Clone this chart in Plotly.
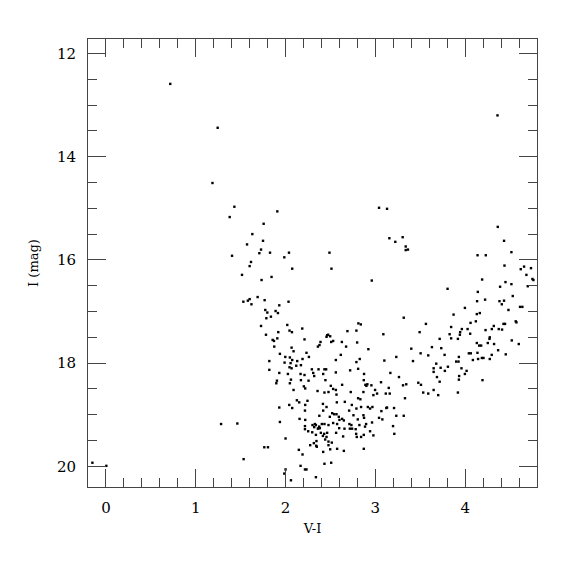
import plotly.graph_objects as go

# V-I colour and I magnitude
pts = [
(0.716,12.59),(1.244,13.44),(1.186,14.51),(4.36,13.2),
(1.43,14.97),(1.378,15.17),(1.404,15.92),
(1.908,15.06),(3.041,14.99),(3.13,15.01),(1.756,15.30),(1.63,15.50),(1.749,15.63),(1.571,15.70),
(1.727,15.80),(1.708,15.87),(1.827,15.86),(2.038,15.86),(1.986,15.95),(2.489,15.86),(1.615,16.04),
(1.60,16.12),(2.074,16.17),(2.511,16.17),(1.515,16.29),(1.844,16.33),(1.733,16.39),(2.96,16.40),
(1.689,16.72),(1.60,16.76),(1.767,16.78),(1.53,16.81),(1.58,16.79),(1.62,16.86),(2.033,16.81),
(1.93,16.88),(1.774,16.97),(1.797,17.02),(1.889,16.99),(1.915,17.03),(1.837,17.10),(1.786,17.13),
(1.727,17.28),(2.019,17.26),(2.186,17.33),(2.044,17.37),(2.071,17.40),(1.919,17.40),(1.782,17.45),
(2.689,17.38),(2.789,17.37),(2.811,17.23),(2.838,17.25),(3.089,17.44),(2.463,17.46),(2.497,17.48),
(2.474,17.45),(2.456,17.49),
(4.363,15.36),(3.156,15.58),(3.222,15.65),(3.304,15.56),(3.338,15.74),(3.338,15.81),(3.363,15.80),
(4.433,15.63),(4.515,15.85),(4.138,15.91),(4.23,15.91),(4.438,16.11),(4.656,16.13),(4.619,16.18),
(4.733,16.16),(4.682,16.29),(4.749,16.37),(4.76,16.39),(4.189,16.38),(4.449,16.43),(4.515,16.47),
(4.389,16.52),(4.697,16.51),(3.804,16.56),(4.141,16.62),(4.53,16.70),(4.222,16.77),(4.133,16.80),
(4.382,16.80),(4.433,16.79),(4.408,16.86),(4.611,16.91),(4.637,16.91),(3.997,16.93),(4.482,16.97),
(3.871,17.06),(4.13,17.05),(4.163,17.03),(3.316,17.12),(4.06,17.22),(4.119,17.19),(4.563,17.19),
(4.571,17.21),(3.563,17.24),(4.427,17.24),(4.444,17.24),(4.319,17.28),(3.844,17.30),(3.963,17.34),
(4.027,17.34),(4.227,17.36),(4.297,17.34),(4.374,17.34),(4.411,17.35),(3.493,17.40),(3.944,17.40),
(3.827,17.44),(3.941,17.45),(4.056,17.43),(4.274,17.50),
(1.282,19.18),(1.463,19.17),(-0.151,19.93),(0.004,19.99),
(1.856,17.55),(1.871,17.57),(1.908,17.52),(2.211,17.54),(2.389,17.59),(2.378,17.65),(2.36,17.68),
(2.508,17.59),(2.53,17.57),(2.627,17.59),(2.674,17.68),(2.797,17.60),(1.874,17.68),(2.067,17.70),
(2.922,17.73),(2.089,17.77),(1.937,17.82),(2.233,17.80),(2.615,17.84),(1.997,17.88),(2.048,17.89),
(2.074,17.94),(2.189,17.92),(2.26,17.88),(2.826,17.92),(2.56,17.94),(2.789,17.98),(1.819,17.96),
(3.1,17.95),(1.989,17.99),(2.13,17.96),(2.056,18.00),(2.171,18.04),(2.119,18.05),(2.044,18.08),
(2.067,18.10),(2.293,18.12),(2.367,18.12),(2.433,18.12),(2.452,18.12),(2.719,18.14),(2.808,18.11),
(1.819,18.13),(1.93,18.19),(2.026,18.21),(2.167,18.21),(2.211,18.23),(2.308,18.19),(2.319,18.25),
(2.419,18.21),(2.56,18.18),(2.874,18.21),(2.06,18.32),(2.171,18.33),(2.256,18.34),(2.444,18.33),
(2.871,18.33),(1.904,18.34),(1.897,18.39),(2.048,18.39),(2.889,18.42),(2.9,18.44),(2.911,18.41),
(2.956,18.43),(3.063,18.37),(2.204,18.45),(2.219,18.49),(2.504,18.44),(2.63,18.42),(2.089,18.52),
(2.356,18.54),(2.433,18.57),(2.478,18.56),(2.53,18.50),(2.56,18.52),(2.567,18.61),(2.726,18.56),
(2.867,18.56),(2.997,18.52),(3.019,18.59),(3.116,18.59),(2.978,18.62),(2.808,18.68),(2.833,18.70),
(2.126,18.72),(2.152,18.76),(2.244,18.73),(2.416,18.79),(2.456,18.85),(2.571,18.76),(2.66,18.75),
(2.738,18.81),(2.789,18.88),(2.841,18.85),(2.916,18.85),(2.941,18.88),(2.967,18.85),(2.041,18.81),
(2.074,18.87),(1.93,18.86),(2.219,18.81),(2.216,18.92),(2.419,18.92),(2.708,18.92),(3.067,18.93),
(3.122,18.87),(2.376,19.02),(2.493,19.04),(2.519,18.97),(2.541,18.99),(2.567,18.99),(2.593,19.04),
(2.63,19.08),(2.6,19.10),(2.649,19.11),(2.756,19.01),(2.804,19.09),(2.867,19.01),(2.874,19.06),
(3.078,19.09),(3.041,19.06),(2.156,19.08),(2.219,19.10),(1.937,19.14),(2.327,19.18),(2.338,19.20),
(2.367,19.26),(2.382,19.26),(2.36,19.27),(2.374,19.23),(2.404,19.18),(2.433,19.18),(2.478,19.20),
(2.53,19.16),(2.574,19.18),(2.597,19.26),(2.711,19.18),(2.733,19.20),(2.716,19.27),(2.741,19.27),
(2.822,19.20),(2.897,19.18),(2.885,19.23),(2.963,19.15),(2.216,19.22),(2.216,19.28),(2.252,19.32),
(2.3,19.20),(2.319,19.24),(2.297,19.34),(2.338,19.39),(2.393,19.35),(2.43,19.37),(2.463,19.35),
(2.416,19.41),(2.456,19.43),(2.563,19.35),(2.641,19.42),(2.656,19.27),(2.786,19.37),(2.793,19.43),
(2.841,19.43),(2.871,19.39),(2.941,19.32),(2.978,19.40),(2.781,19.28),(2.0,19.46),(2.344,19.51),
(2.341,19.60),(2.274,19.59),(2.315,19.55),(2.348,19.62),(2.441,19.48),(2.478,19.52),(2.478,19.59),
(2.497,19.67),(2.515,19.54),(2.574,19.66),(2.419,19.72),(2.649,19.70),(2.871,19.66),(1.763,19.63),
(1.804,19.63),(2.148,19.68),(2.189,19.77),(1.533,19.86),(2.167,19.99),(2.433,19.95),(2.508,19.93),
(2.216,20.06),(2.233,20.06),(2.0,20.06),(1.986,20.14),(2.338,20.21),(2.06,20.27),
(3.716,17.53),(3.844,17.52),(3.919,17.53),(4.13,17.61),(4.156,17.66),(4.178,17.66),(4.252,17.61),
(4.271,17.53),(4.322,17.63),(4.519,17.56),(4.597,17.63),(3.63,17.69),(3.734,17.71),(3.4,17.72),
(3.233,17.88),(3.419,17.96),(3.504,17.81),(3.589,17.85),(3.771,17.84),(3.93,17.88),(3.9,17.97),
(3.926,17.97),(4.041,17.81),(4.063,17.81),(4.137,17.80),(4.086,17.94),(4.144,17.92),(4.186,17.90),
(4.204,17.90),(4.274,17.92),(4.296,17.84),(4.367,17.75),(4.452,17.83),(3.678,18.01),(3.649,18.10),
(3.727,18.09),(3.808,18.07),(3.649,18.17),(3.774,18.15),(3.959,18.10),(4.016,18.15),(3.997,18.21),
(3.933,18.25),(3.93,18.32),(3.686,18.27),(3.716,18.36),(4.193,18.33),(3.167,18.19),(3.263,18.27),
(3.308,18.43),(3.344,18.41),(3.478,18.38),(3.508,18.42),(3.149,18.48),(3.16,18.59),(3.533,18.57),
(3.589,18.59),(3.649,18.52),(3.7,18.62),(3.919,18.57),(3.33,18.68),(3.13,18.86),(3.208,18.87),
(3.233,19.02),(3.316,19.02),(3.197,19.22),(3.211,19.37),
]
v_minus_i = [p[0] for p in pts]
i_mag = [p[1] for p in pts]

fig = go.Figure(go.Scatter(
    x=v_minus_i, y=i_mag, mode="markers",
    marker=dict(symbol="square", size=2.4, color="black", line=dict(width=0)),
    hoverinfo="skip"))

font = "DejaVu Serif, Liberation Serif, serif"
axis_common = dict(
    showline=True, linecolor="#444", linewidth=1, mirror="allticks",
    ticks="inside", ticklen=18, tickwidth=1, tickcolor="#444",
    showgrid=False, zeroline=False,
    tickfont=dict(family=font, size=15, color="#000"),
)
fig.update_layout(
    width=575, height=575,
    margin=dict(l=80, r=46, t=31, b=96),
    paper_bgcolor="white", plot_bgcolor="white",
    showlegend=False,
    font=dict(family=font, color="#000"),
    xaxis=dict(range=[-0.2, 4.8], dtick=1, tick0=0, ticklabelstandoff=7,
               minor=dict(dtick=0.2, ticks="inside", ticklen=9, tickcolor="#444"),
               title=dict(text="V-I", font=dict(family=font, size=13, color="#000"), standoff=7),
               **axis_common),
    yaxis=dict(range=[20.4, 11.72], dtick=2, tick0=12, ticklabelstandoff=8,
               minor=dict(dtick=0.5, ticks="inside", ticklen=9, tickcolor="#444"),
               title=dict(text="I (mag)", font=dict(family=font, size=13, color="#000"), standoff=15),
               **axis_common),
)
fig.write_html("out.html")
